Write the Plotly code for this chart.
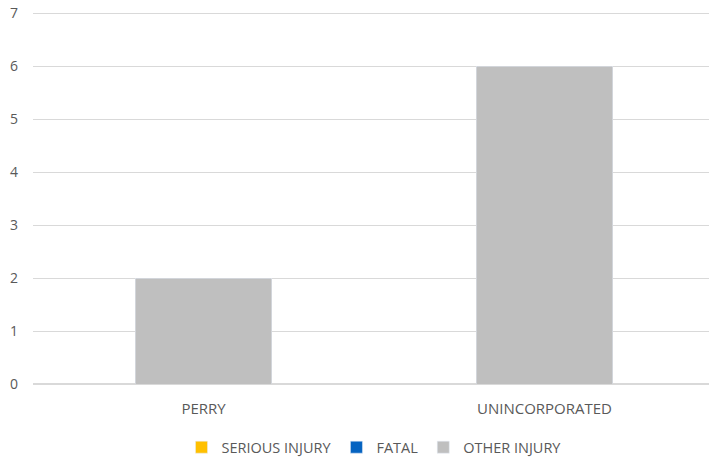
import plotly.graph_objects as go

categories = ["PERRY", "UNINCORPORATED"]
serious_injury = [0, 0]
fatal = [0, 0]
other_injury = [2, 6]
y_ticks = [0, 1, 2, 3, 4, 5, 6, 7]

fig = go.Figure()
fig.add_trace(go.Bar(name="SERIOUS INJURY", x=categories, y=serious_injury, marker_color="#FFC000"))
fig.add_trace(go.Bar(name="FATAL", x=categories, y=fatal, marker_color="#0563C1"))
fig.add_trace(go.Bar(name="OTHER INJURY", x=categories, y=other_injury, marker_color="#BFBFBF"))

fig.update_layout(
    width=715, height=458,
    barmode="stack", bargap=0.6,
    plot_bgcolor="white", paper_bgcolor="white",
    margin=dict(l=33, r=0, t=12, b=74, autoexpand=False),
    font=dict(family="Open Sans, Liberation Sans, sans-serif", size=14, color="#595959"),
    showlegend=True,
    legend=dict(orientation="h", x=0.5, xanchor="center", y=-0.17, yanchor="middle",
                font=dict(size=14.5, color="#595959"), traceorder="normal",
                itemwidth=30, tracegroupgap=0),
    xaxis=dict(showgrid=False, showline=False, ticks="", automargin=False,
               ticklabelstandoff=14, tickfont=dict(size=15)),
    yaxis=dict(range=[0, 7.02], tickvals=y_ticks, showgrid=True, gridcolor="#D9D9D9",
               gridwidth=1, zeroline=True, zerolinecolor="#D9D9D9", ticks="",
               automargin=False, ticklabelstandoff=14, ticklabeloverflow="allow",
               tickfont=dict(size=14)),
)
fig.write_html(
    "out.html",
    config={"displayModeBar": False},
    post_script="document.body.style.margin='0';document.body.style.overflow='hidden';",
)
